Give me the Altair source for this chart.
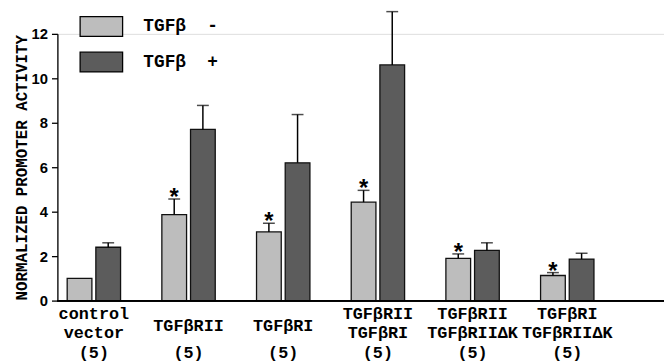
import altair as alt
import pandas as pd

# ---- data ----
groups = ["control vector", "TGFβRII", "TGFβRI", "TGFβRII TGFβRI",
          "TGFβRII TGFβRIIΔK", "TGFβRI TGFβRIIΔK"]
group_labels = ["control|vector", "TGFβRII", "TGFβRI", "TGFβRII|TGFβRI",
                "TGFβRII|TGFβRIIΔK", "TGFβRI|TGFβRIIΔK"]
counts = ["(5)", "(5)", "(5)", "(5)", "(5)", "(5)"]
conditions = ["TGFβ\u00a0\u00a0-", "TGFβ\u00a0\u00a0+"]

minus_mean = [1.0, 3.87, 3.09, 4.43, 1.90, 1.13]
minus_sem = [0.0, 0.70, 0.39, 0.53, 0.20, 0.13]
minus_signif = [False, True, True, True, True, True]
plus_mean = [2.40, 7.70, 6.20, 10.60, 2.26, 1.87]
plus_sem = [0.20, 1.08, 2.17, 2.40, 0.34, 0.26]

y_ticks = list(range(0, 13))

rows = []
for i, g in enumerate(groups):
    rows.append(dict(group=g, cond=conditions[0], mean=minus_mean[i],
                     sem=minus_sem[i], top=minus_mean[i] + minus_sem[i],
                     star="*" if minus_signif[i] else ""))
    rows.append(dict(group=g, cond=conditions[1], mean=plus_mean[i],
                     sem=plus_sem[i], top=plus_mean[i] + plus_sem[i], star=""))
df = pd.DataFrame(rows)
labels_df = pd.DataFrame(dict(group=groups, label=group_labels, n=counts))

W, H = 614, 270
MONO = "Liberation Mono"

x_scale = alt.Scale(domain=groups, range=[-11, 564], paddingInner=0, paddingOuter=0)
x_enc = alt.X("group:N", sort=groups, scale=x_scale, axis=None)
xo_enc = alt.XOffset("cond:N", sort=conditions,
                     scale=alt.Scale(domain=conditions, paddingInner=0.138, paddingOuter=0.72))
y_scale = alt.Scale(domain=[0, 12], nice=False)

base = alt.Chart(df)

bars = base.mark_bar(stroke="#111111", strokeWidth=1.3).encode(
    x=x_enc,
    xOffset=xo_enc,
    y=alt.Y("mean:Q", scale=y_scale,
            axis=alt.Axis(
                values=y_ticks,
                labelExpr="datum.value % 2 === 0 ? datum.label : ''",
                tickSize={"condition": {"test": "datum.value % 2 === 0", "value": 6}, "value": 3},
                grid=False, domainColor="black", tickColor="black",
                domainWidth=1.3, tickWidth=1.3,
                labelFont="Liberation Sans", labelFontWeight="bold", labelFontSize=15,
                labelColor="black", labelPadding=4,
                title="NORMALIZED PROMOTER ACTIVITY", titleFont=MONO,
                titleFontSize=16, titleFontWeight="bold", titleColor="black",
                titlePadding=2)),
    color=alt.Color("cond:N", sort=conditions,
                    scale=alt.Scale(domain=conditions, range=["#bdbdbd", "#5c5c5c"]),
                    legend=alt.Legend(
                        title=None, orient="none", legendX=22, legendY=-30,
                        symbolType="M-1,-0.465H1V0.465H-1Z", symbolSize=1849,
                        symbolStrokeColor="black", symbolStrokeWidth=1.3,
                        labelFont=MONO, labelFontWeight="bold", labelFontSize=18,
                        labelColor="black", labelOffset=20, rowPadding=0, padding=0)),
)

err = base.transform_filter("datum.sem > 0")

err_line = err.mark_rule(color="black", strokeWidth=1.5).encode(
    x=x_enc, xOffset=xo_enc, y=alt.Y("mean:Q", scale=y_scale), y2="top:Q")

err_cap = err.mark_tick(color="black", thickness=1.5, size=12).encode(
    x=x_enc, xOffset=xo_enc, y=alt.Y("top:Q", scale=y_scale))

stars = base.transform_filter("datum.star != ''").mark_text(
    font="Liberation Sans", fontWeight="bold", fontSize=24, color="black",
    baseline="alphabetic", dy=6).encode(
    x=x_enc, xOffset=xo_enc, y=alt.Y("top:Q", scale=y_scale), text="star:N")

baseline = base.mark_rule(color="black", strokeWidth=1.3).encode(
    x=alt.value(0), x2=alt.value(W), y=alt.value(H))

lbl = alt.Chart(labels_df).transform_calculate(
    lines="split(datum.label, '|')", nlines="length(split(datum.label, '|'))")
text_style = dict(font=MONO, fontWeight="bold", fontSize=17, lineHeight=19,
                  baseline="middle", align="center", color="black")
names2 = lbl.transform_filter("datum.nlines > 1").mark_text(**text_style).encode(
    x=x_enc, y=alt.value(284), text="lines:N")
names1 = lbl.transform_filter("datum.nlines == 1").mark_text(**text_style).encode(
    x=x_enc, y=alt.value(296), text="label:N")
ns = lbl.mark_text(**text_style).encode(
    x=x_enc, y=alt.value(323), text="n:N")

chart = alt.layer(bars, err_line, err_cap, stars, baseline, names2, names1, ns).properties(
    width=W, height=H,
    autosize=alt.AutoSizeParams(type="none"),
    padding={"left": 50, "top": 24, "right": 0, "bottom": 62},
).configure_view(stroke=None).configure(background="white")

chart.save("out.html", embed_options={"renderer": "svg", "actions": False})
